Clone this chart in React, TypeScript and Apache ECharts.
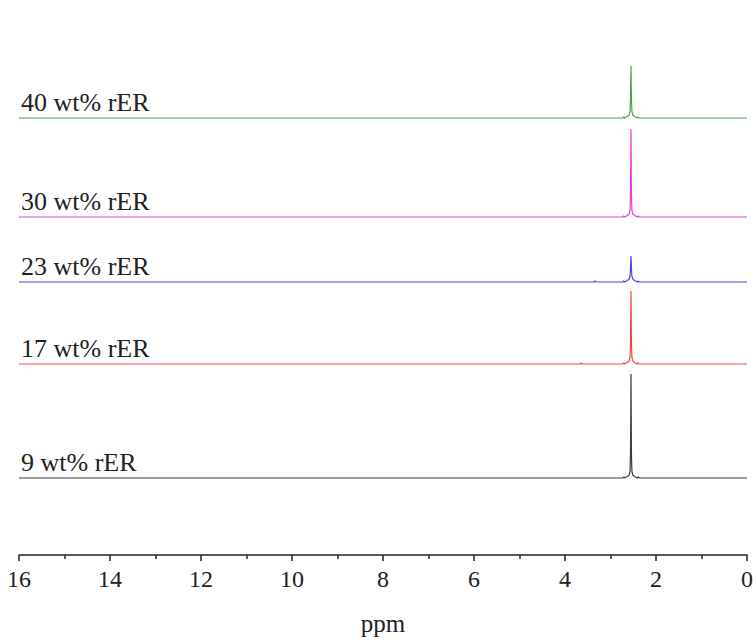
import React, { useEffect, useRef } from "react";
import * as echarts from "echarts";

// chemical shift positions (ppm) sampled along each spectrum
const ppm = [16, 3.66, 3.64, 3.62, 3.36, 3.34, 3.32, 2.73, 2.71, 2.69, 2.63, 2.59, 2.57, 2.56, 2.55, 2.54, 2.53, 2.51, 2.47, 2.41, 2.39, 2.37, 0];

const labels = ["9 wt% rER", "17 wt% rER", "23 wt% rER", "30 wt% rER", "40 wt% rER"];
const offsets = [77, 191, 273, 338, 437];
const colors = ["#3c3c3c", "#f04848", "#4848d8", "#e040e0", "#4e9e4e"];

const int9 = [0, 0, 0, 0, 0, 0, 0, 0, 1, 0, 1.5, 3, 7, 25, 104, 25, 7, 3, 1.5, 0, 1, 0, 0];
const int17 = [0, 0, 1, 0, 0, 0, 0, 0, 1, 0, 1.5, 3, 7, 22, 73, 22, 7, 3, 1.5, 0, 1, 0, 0];
const int23 = [0, 0, 0, 0, 0, 1, 0, 0, 1, 0, 1.5, 3, 6, 14, 26, 14, 6, 3, 1.5, 0, 1, 0, 0];
const int30 = [0, 0, 0, 0, 0, 0, 0, 0, 1, 0, 1.5, 3, 7, 25, 88, 25, 7, 3, 1.5, 0, 1, 0, 0];
const int40 = [0, 0, 0, 0, 0, 0, 0, 0, 1, 0, 1.5, 3, 7, 20, 52, 20, 7, 3, 1.5, 0, 1, 0, 0];
const intensities = [int9, int17, int23, int30, int40];

const xTicks = { min: 0, max: 16, interval: 2 };
const serif = "'Liberation Serif', 'Times New Roman', serif";

export default function App() {
  const ref = useRef<HTMLDivElement>(null);
  useEffect(() => {
    if (!ref.current) return;
    const chart = echarts.init(ref.current, null, { renderer: "svg" });
    const series = intensities.map((vals, k) => ({
      type: "line",
      name: labels[k],
      data: ppm.map((x, i) => [x, offsets[k] + vals[i]]),
      showSymbol: false,
      symbol: "none",
      lineStyle: { color: colors[k], width: 1.2 },
      z: 2,
    }));
    chart.setOption({
      animation: false,
      backgroundColor: "#ffffff",
      grid: { left: 19, right: 6, top: 40, bottom: 87 },
      xAxis: {
        type: "value",
        inverse: true,
        min: xTicks.min,
        max: xTicks.max,
        interval: xTicks.interval,
        name: "ppm",
        nameLocation: "middle",
        nameGap: 56,
        nameTextStyle: { fontFamily: serif, fontSize: 25, color: "#222" },
        axisLine: { show: true, onZero: false, lineStyle: { color: "#222", width: 1.5 } },
        axisTick: { show: true, inside: false, length: 6, lineStyle: { color: "#222", width: 1.5 } },
        minorTick: { show: true, splitNumber: 2, length: 4, lineStyle: { color: "#222", width: 1.5 } },
        axisLabel: { fontFamily: serif, fontSize: 24, color: "#222", margin: 12 },
        splitLine: { show: false },
      },
      yAxis: {
        type: "value",
        min: 0,
        max: 515,
        show: false,
        splitLine: { show: false },
      },
      series,
    });
    const graphic = labels.map((t, k) => {
      const p = chart.convertToPixel({ xAxisIndex: 0, yAxisIndex: 0 }, [16, offsets[k]]);
      return {
        type: "text",
        x: p[0] + 2,
        y: p[1] - 3,
        style: {
          text: t,
          fontFamily: serif,
          fontSize: 26,
          fill: "#222",
          textAlign: "left",
          textVerticalAlign: "bottom",
        },
      };
    });
    chart.setOption({ graphic });
    return () => chart.dispose();
  }, []);
  return (
    <div
      ref={ref}
      style={{ position: "fixed", left: 0, top: 0, width: 756, height: 642, background: "#fff" }}
    />
  );
}
